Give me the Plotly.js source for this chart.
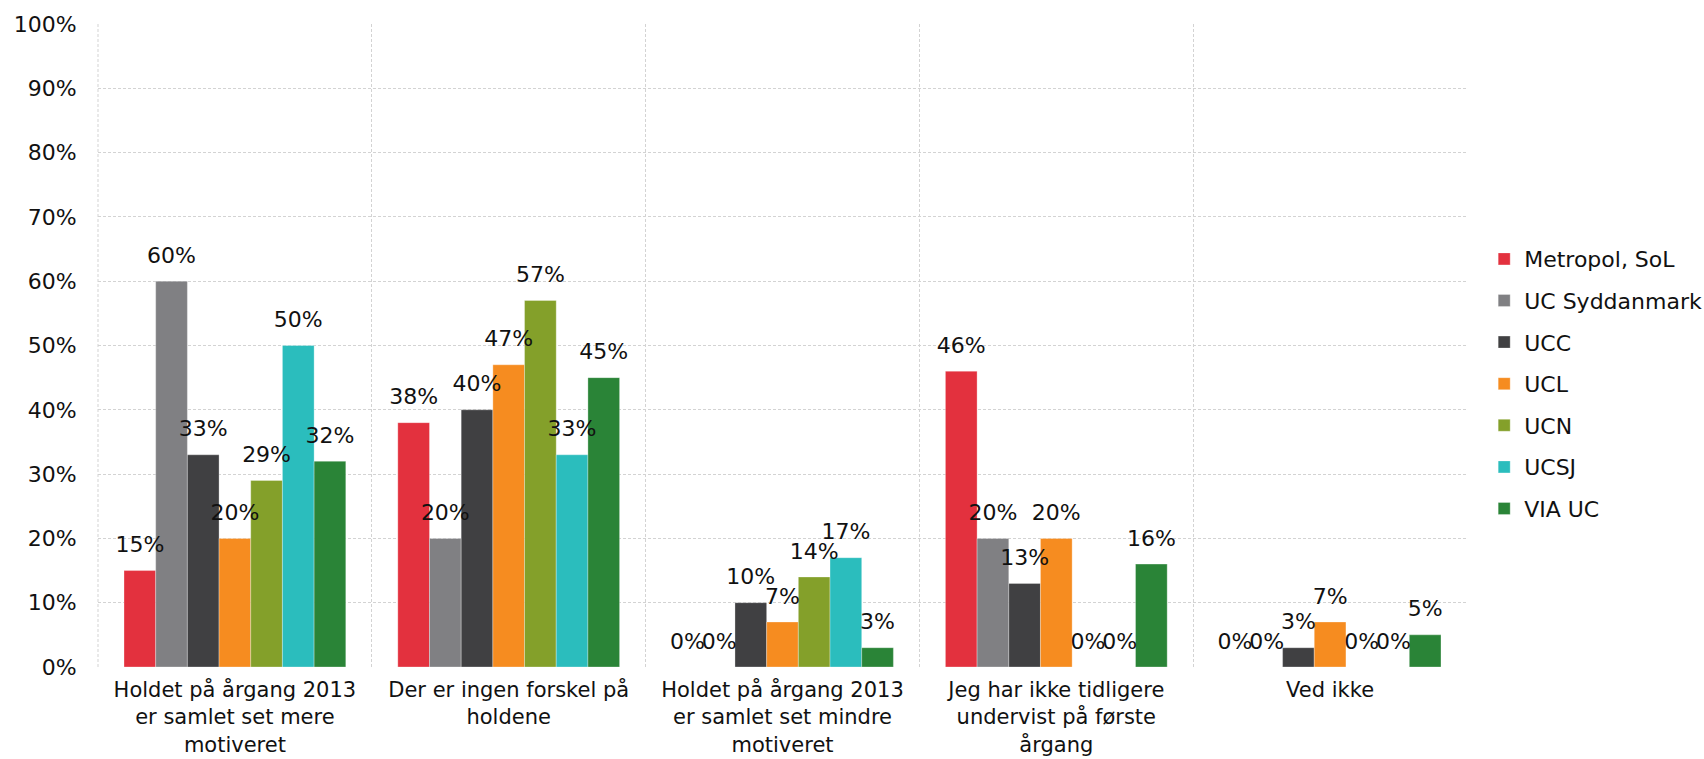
<!DOCTYPE html>
<html>
<head>
<meta charset="utf-8">
<script src="https://cdn.plot.ly/plotly-3.0.1.min.js"></script>
<style>html,body{margin:0;padding:0;background:#fff;}#chart{width:1704px;height:759px;}</style>
</head>
<body>
<div id="chart"></div>
<script>
const categories = [
  "Holdet på årgang 2013<br>er samlet set mere<br>motiveret",
  "Der er ingen forskel på<br>holdene",
  "Holdet på årgang 2013<br>er samlet set mindre<br>motiveret",
  "Jeg har ikke tidligere<br>undervist på første<br>årgang",
  "Ved ikke"
];
const seriesNames = ["Metropol, SoL", "UC Syddanmark", "UCC", "UCL", "UCN", "UCSJ", "VIA UC"];
const metropol = [15, 38, 0, 46, 0];
const ucSyddanmark = [60, 20, 0, 20, 0];
const ucc = [33, 40, 10, 13, 3];
const ucl = [20, 47, 7, 20, 7];
const ucn = [29, 57, 14, 0, 0];
const ucsj = [50, 33, 17, 0, 0];
const viaUc = [32, 45, 3, 16, 5];
const seriesValues = [metropol, ucSyddanmark, ucc, ucl, ucn, ucsj, viaUc];
const colors = ["#E3313E", "#808083", "#404042", "#F68C20", "#84A02A", "#2BBDBD", "#2A8437"];
const yTicks = [0, 10, 20, 30, 40, 50, 60, 70, 80, 90, 100];

const FONT = "DejaVu Sans, Verdana, sans-serif";
const FS = 22;
const GAP = 0.19;

const barTraces = seriesNames.map((name, i) => ({
  type: "bar",
  name: name,
  x: categories,
  y: seriesValues[i],
  marker: { color: colors[i], line: { color: "rgba(255,255,255,0.6)", width: 0.5 } },
  legendgroup: "g" + i,
  hoverinfo: "none"
}));

// value labels drawn above all bars, aligned with the bar groups
const labelTraces = seriesNames.map((name, i) => ({
  type: "scatter",
  mode: "markers+text",
  name: name + " label",
  x: categories,
  y: seriesValues[i],
  text: seriesValues[i].map(v => v + "%"),
  textposition: "top center",
  textfont: { family: FONT, size: FS, color: "#111" },
  marker: { size: 19, color: "rgba(0,0,0,0)", line: { width: 0 } },
  cliponaxis: false,
  showlegend: false,
  hoverinfo: "none"
}));

const layout = {
  width: 1704,
  height: 759,
  margin: { l: 98, r: 237, t: 24, b: 92 },
  paper_bgcolor: "#fff",
  plot_bgcolor: "#fff",
  font: { family: FONT, size: FS, color: "#111" },
  barmode: "group",
  bargap: GAP,
  bargroupgap: 0,
  scattermode: "group",
  scattergap: GAP,
  showlegend: true,
  legend: {
    xref: "container",
    x: 0.871, xanchor: "left",
    y: 0.44, yanchor: "middle",
    font: { family: FONT, size: FS, color: "#111" },
    traceorder: "grouped",
    tracegroupgap: 10,
    itemwidth: 30
  },
  shapes: [{
    type: "line", xref: "paper", yref: "paper",
    x0: 0, x1: 0, y0: 0, y1: 1,
    line: { color: "#d3d3d3", width: 1, dash: "3px,2px" },
    layer: "below"
  }],
  xaxis: {
    type: "category",
    tickson: "boundaries",
    showgrid: true,
    gridcolor: "#d3d3d3",
    griddash: "3px,2px",
    gridwidth: 1,
    showline: false,
    ticks: "",
    ticklabelstandoff: 8,
    tickfont: { family: FONT, size: 21, color: "#111" },
    automargin: false
  },
  yaxis: {
    range: [0, 100],
    tickvals: yTicks,
    ticktext: yTicks.map(v => v + "%"),
    showgrid: true,
    gridcolor: "#d3d3d3",
    griddash: "3px,2px",
    gridwidth: 1,
    zeroline: false,
    showline: false,
    ticks: "outside",
    ticklen: 16,
    tickcolor: "rgba(0,0,0,0)",
    tickfont: { family: FONT, size: FS, color: "#111" },
    automargin: false
  }
};

Plotly.newPlot("chart", barTraces.concat(labelTraces), layout, { displayModeBar: false, staticPlot: true });
</script>
</body>
</html>
